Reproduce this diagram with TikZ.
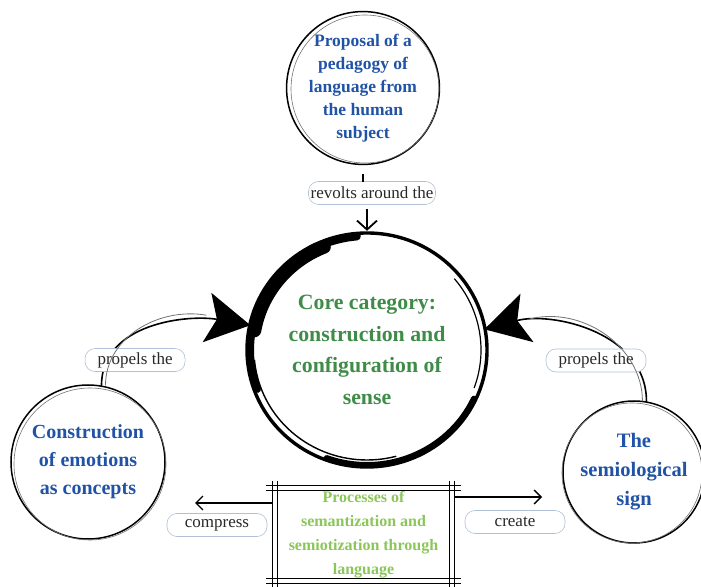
\documentclass[tikz,border=0pt]{standalone}
\usepackage{fontspec}
\setmainfont{Liberation Serif}
\usepackage{tikz}
\usetikzlibrary{
  arrows.meta,
  positioning,
  calc,
  backgrounds
}
\definecolor{txtblue}{RGB}{32, 82, 165}
\definecolor{coregreen}{RGB}{62, 140, 72}
\definecolor{procgreen}{RGB}{138, 198, 88}
\definecolor{lblline}{RGB}{175, 192, 215}
\definecolor{lbltext}{RGB}{40, 40, 40}
\tikzset{
  sketch/.style = {
    circle, draw=black, line width=1.5pt,
    minimum size=#1, inner sep=0pt,
    align=center, text=txtblue
  },
  sketch/.default = 150pt,
  ghost/.style = {draw=black!55, line width=0.6pt},
  lbl/.style = {
    rectangle, rounded corners=10pt,
    draw=lblline, line width=0.6pt, fill=white,
    minimum width=#1, minimum height=23pt, inner sep=2pt,
    text=lbltext, font=\fontsize{17}{19}\selectfont
  },
  lbl/.default = 100pt,
  curv/.style = {line width=1.6pt, line cap=round},
  bigtip/.style = {-{Stealth[length=44pt, width=50pt, inset=10pt]}, curv},
  barb/.style = {-{Straight Barb[length=7pt, width=14pt]}, line width=1.3pt},
  frame/.style = {draw=black, line width=1.1pt},
}

\begin{document}
\begin{tikzpicture}[x=1pt, y=1pt]

  \useasboundingbox (0,0) rectangle (701,586);

  % Core category (centre)
  \node[circle, minimum size=238pt, inner sep=0pt, align=center,
        text=coregreen, font=\fontsize{21.8}{31.5}\selectfont\bfseries]
    (core) at (367,236)
    {Core category:\\construction and\\configuration of\\sense};
  \draw[line width=3.4pt] (core.center) ellipse[x radius=120, y radius=117];
  \draw[line width=8pt, line cap=round]
    ($(core.center)+(95:117 and 114)$)
    arc[start angle=95, end angle=200, x radius=117, y radius=114];
  \draw[line width=13pt, line cap=round]
    ($(core.center)+(112:114 and 111)$)
    arc[start angle=112, end angle=170, x radius=114, y radius=111];
  \draw[line width=6pt, line cap=round]
    ($(core.center)+(250:118 and 115)$)
    arc[start angle=250, end angle=335, x radius=118, y radius=115];
  \draw[line width=1.4pt]
    ($(core.center)+(185:113 and 110)$)
    arc[start angle=185, end angle=285, x radius=113, y radius=110];
  \draw[line width=1.2pt]
    ($(core.center)+(-20:114 and 111)$)
    arc[start angle=-20, end angle=40, x radius=114, y radius=111];

  % Proposal (top)
  \node[sketch=150pt, font=\fontsize{17.5}{23}\selectfont\bfseries]
    (top_prop) at (363,498)
    {Proposal of a\\pedagogy of\\language from\\the human\\subject};
  \draw[ghost] ([shift={(2,-1)}]top_prop.center) circle[radius=74];

  % Emotions (left)
  \node[sketch=154pt, font=\fontsize{20}{28}\selectfont\bfseries]
    (left_emo) at (88,124)
    {Construction\\of emotions\\as concepts};
  \draw[ghost] ([shift={(2,-2)}]left_emo.center) circle[radius=76];

  % Semiological sign (right)
  \node[sketch=142pt, font=\fontsize{20.5}{29}\selectfont\bfseries]
    (right_sign) at (634,114)
    {The\\semiological\\sign};
  \draw[ghost] ([shift={(-2,-1)}]right_sign.center) circle[radius=70];

  % Processes (bottom box)
  \node[rectangle, minimum width=182pt, minimum height=97pt, align=center,
        text=procgreen, font=\fontsize{16}{24}\selectfont\bfseries]
    (proc_box) at (363.5,51.5)
    {Processes of\\semantization and\\semiotization through\\language};
  \foreach \d in {0,5} {
    \draw[frame] ([shift={(-6,-\d)}]proc_box.north west)
      -- ([shift={(6,-\d)}]proc_box.north east);
    \draw[frame] ([shift={(-6,\d)}]proc_box.south west)
      -- ([shift={(6,\d)}]proc_box.south east);
    \draw[frame] ([shift={(\d,5)}]proc_box.north west)
      -- ([shift={(\d,-5)}]proc_box.south west);
    \draw[frame] ([shift={(-\d,5)}]proc_box.north east)
      -- ([shift={(-\d,-5)}]proc_box.south east);
  }

  % Labels
  \node[lbl=127pt] (lbl_revolt) at (372,393) {revolts around the};

  % Connectors
  \draw[line width=2.2pt] (top_prop.south) ++(0,-9) coordinate (tick_a)
    -- ++(0,-8) coordinate (tick_b);
  \draw[line width=1.8pt, -{Straight Barb[length=9pt, width=20pt]}]
    (core.north |- lbl_revolt.south) ++(0,-4) -- (core.north);

  \draw[bigtip] (left_emo.80) to[out=90, in=170]
    node[lbl, pos=0.2, xshift=24, yshift=-6] (lbl_left) {propels the} (core.168);
  \draw[ghost, line width=0.8pt] ([shift={(4,0)}]left_emo.80)
    to[out=90, in=170] ([shift={(-44,10)}]core.168);

  \draw[bigtip] (right_sign.80) to[out=90, in=15]
    node[lbl, pos=0.2, xshift=-40, yshift=5] (lbl_right) {propels the} (core.10);
  \draw[ghost, line width=0.8pt] ([shift={(-4,0)}]right_sign.80)
    to[out=90, in=15] ([shift={(44,10)}]core.10);

  \coordinate (cmp_end) at (195,83);
  \coordinate (crt_end) at (542,89);
  \draw[barb] (proc_box.west |- cmp_end) -- (cmp_end);
  \draw[barb] (proc_box.east |- crt_end) -- (crt_end);
  \node[lbl] (lbl_cmp) at (217,61) {compress};
  \node[lbl] (lbl_crt) at (515,64) {create};

\end{tikzpicture}
\end{document}
